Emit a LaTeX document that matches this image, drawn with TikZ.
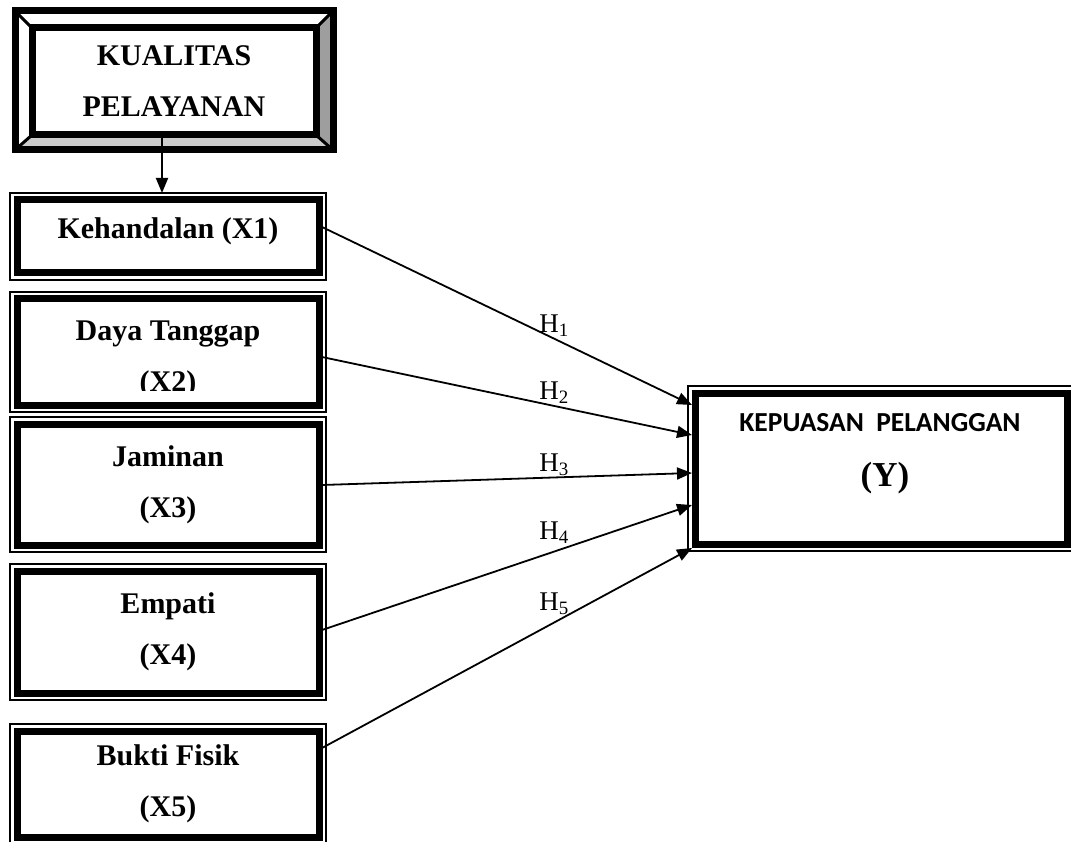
\documentclass[tikz,border=0pt]{standalone}
\usepackage{fontspec}
\setmainfont{Liberation Serif}
\newfontfamily\calibri{Carlito}
\usetikzlibrary{arrows.meta,positioning}

\begin{document}
\begin{tikzpicture}[x=1pt,y=1pt,
      every node/.style={font=\bfseries\fontsize{30}{51}\selectfont,align=center,outer sep=0pt},
      varbox/.style={rectangle,draw,line width=7pt,minimum width=302pt},
      thinframe/.style={line width=1.5pt},
      hyp/.style={-{Triangle[length=15pt,width=12pt]},line width=1.8pt},
      hlabel/.style={font=\mdseries\fontsize{27}{27}\selectfont,inner sep=2pt}]
    \useasboundingbox (0,0) rectangle (1071,-842);
    % bevelled frame
    \fill[black!38] (333,-11) -- (316,-28) -- (316,-135) -- (333,-150) -- cycle;
    \fill[black!20] (15,-150) -- (32,-135) -- (316,-135) -- (333,-150) -- cycle;
    \draw[line width=7pt] (15,-11) rectangle (333,-150);
    \draw[line width=3pt] (15,-11) -- (32,-28) (333,-11) -- (316,-28)
        (15,-150) -- (32,-135) (333,-150) -- (316,-135);
    \node[draw,line width=7pt,minimum width=284pt,minimum height=107pt] (kualitas) at (174,-81.5) {KUALITAS\\PELAYANAN};
    % dimensions
    \node[varbox,minimum height=73pt] (x1) at (168,-236.5) {Kehandalan (X1)\rule[-16pt]{0pt}{1pt}};
    \node[varbox,minimum height=106pt] (x2) at (168,-352) {\rule{0pt}{34pt}Daya Tanggap\\(X2)};
    \node[varbox,minimum height=121pt] (x3) at (168,-484.5) {Jaminan\\(X3)};
    \node[varbox,minimum height=122pt] (x4) at (168,-632) {Empati\\(X4)};
    \node[varbox,minimum height=106pt] (x5) at (168,-784) {Bukti Fisik\\(X5)};
    \foreach \b in {x1,x2,x3,x4,x5}
        \draw[thinframe] ([shift={(-7,7)}]\b.north west) rectangle ([shift={(7,-7)}]\b.south east);
    \fill[white] ([shift={(-40,3.6)}]x2.south) rectangle ([shift={(40,14)}]x2.south);
    % dependent
    \node[varbox,minimum width=372pt,minimum height=151pt] (ybox) at (881,-468.5) {};
    \draw[thinframe] ([shift={(-7,7)}]ybox.north west) rectangle ([shift={(7,-7)}]ybox.south east);
    \node[font=\calibri\bfseries\fontsize{27.5}{30}\selectfont] (ytitle) at ([shift={(-1,45.5)}]ybox.center) {KEPUASAN\ \ PELANGGAN};
    \node[font=\bfseries\fontsize{35}{40}\selectfont] (yvar) at ([shift={(4,-9.5)}]ybox.center) {(Y)};
    % arrows
    \draw[hyp] ([xshift=-12]kualitas.south) -- ([shift={(-6,7)}]x1.north);
    \draw[hyp] ([shift={(3,9.5)}]x1.east) -- node[hlabel,above,pos=0.627] {H\textsubscript{1}} ([shift={(-3,63.5)}]ybox.west);
    \draw[hyp] ([shift={(3,-5)}]x2.east) -- node[hlabel,above,pos=0.627] {H\textsubscript{2}} ([shift={(-3,33.5)}]ybox.west);
    \draw[hyp] ([shift={(3,-0.5)}]x3.east) -- node[hlabel,above,pos=0.627] {H\textsubscript{3}} ([shift={(-3,-4.5)}]ybox.west);
    \draw[hyp] ([shift={(3,2)}]x4.east) -- node[hlabel,above,pos=0.627,yshift=6] {H\textsubscript{4}} ([shift={(-3,-36.5)}]ybox.west);
    \draw[hyp] ([shift={(3,36)}]x5.east) -- node[hlabel,above,pos=0.627,yshift=6] {H\textsubscript{5}} ([shift={(-3,-79.5)}]ybox.west);
\end{tikzpicture}
\end{document}
